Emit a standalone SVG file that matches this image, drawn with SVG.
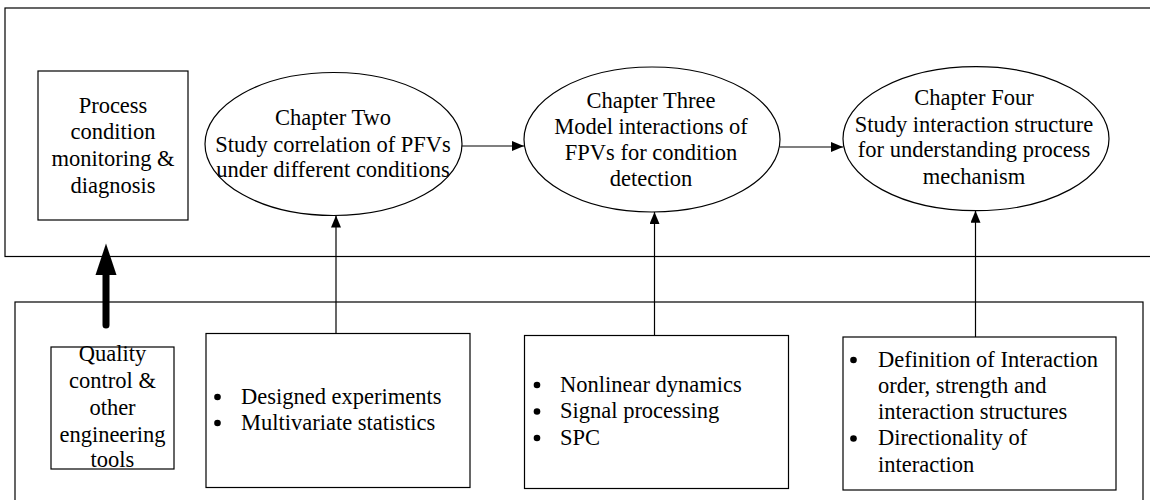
<svg xmlns="http://www.w3.org/2000/svg" width="1150" height="500" viewBox="0 0 1150 500">
<defs>
<style>
.b{fill:#fff;stroke:#000;stroke-width:1.2}
.f{fill:none;stroke:#000;stroke-width:1.2}
.t{font-family:"Liberation Serif","Times New Roman",serif;font-size:22.5px;fill:#000}
.c{text-anchor:middle}
.l{stroke:#000;stroke-width:1.2;fill:none}
</style>
<marker id="ah" viewBox="0 0 12 10" refX="12" refY="5" markerWidth="12" markerHeight="10" markerUnits="userSpaceOnUse" orient="auto">
<path d="M0,0 L12,5 L0,10 Z" fill="#000"/>
</marker>
</defs>
<rect width="1150" height="500" fill="#fff"/>
<g id="top-frame"><rect class="f" x="5" y="8" width="1160" height="248.5"/></g>
<g id="bottom-frame"><rect class="f" x="15" y="302" width="1128" height="210"/></g>

<g id="process-box">
<rect class="b" x="38" y="71" width="150" height="149"/>
<text class="t c" x="113" y="112.5">Process</text>
<text class="t c" x="113" y="139">condition</text>
<text class="t c" x="113" y="166">monitoring &amp;</text>
<text class="t c" x="113" y="193">diagnosis</text>
</g>

<g id="ch2">
<ellipse class="b" cx="333.5" cy="144" rx="128.5" ry="71.5"/>
<text class="t c" x="333" y="125">Chapter Two</text>
<text class="t c" x="333" y="151.5">Study correlation of PFVs</text>
<text class="t c" x="333" y="177">under different conditions</text>
</g>

<g id="ch3">
<ellipse class="b" cx="652" cy="139.5" rx="128" ry="72.5"/>
<text class="t c" x="651" y="108">Chapter Three</text>
<text class="t c" x="651" y="134">Model interactions of</text>
<text class="t c" x="651" y="160">FPVs for condition</text>
<text class="t c" x="651" y="186">detection</text>
</g>

<g id="ch4">
<ellipse class="b" cx="976" cy="138.7" rx="133" ry="72"/>
<text class="t c" x="974" y="105">Chapter Four</text>
<text class="t c" x="974" y="131.5">Study interaction structure</text>
<text class="t c" x="974" y="157">for understanding process</text>
<text class="t c" x="974" y="184">mechanism</text>
</g>

<g id="quality-box">
<rect class="b" x="51" y="347" width="123" height="122"/>
<text class="t c" x="112.5" y="361">Quality</text>
<text class="t c" x="112.5" y="388">control &amp;</text>
<text class="t c" x="112.5" y="415">other</text>
<text class="t c" x="112.5" y="441.5">engineering</text>
<text class="t c" x="112.5" y="467">tools</text>
</g>

<g id="methods-2">
<rect class="b" x="206" y="333.5" width="264" height="154"/>
<circle cx="217.5" cy="397" r="3.3"/>
<circle cx="217.5" cy="423" r="3.3"/>
<text class="t" x="241" y="404">Designed experiments</text>
<text class="t" x="241" y="430">Multivariate statistics</text>
</g>

<g id="methods-3">
<rect class="b" x="524.5" y="335.5" width="264" height="153"/>
<circle cx="537" cy="385" r="3.3"/>
<circle cx="537" cy="411.5" r="3.3"/>
<circle cx="537" cy="438" r="3.3"/>
<text class="t" x="560" y="391.5">Nonlinear dynamics</text>
<text class="t" x="560" y="418">Signal processing</text>
<text class="t" x="560" y="444.5">SPC</text>
</g>

<g id="methods-4">
<rect class="b" x="843" y="337" width="273" height="153"/>
<circle cx="853.5" cy="360" r="3.3"/>
<circle cx="853.5" cy="438.5" r="3.3"/>
<text class="t" x="878" y="366.5">Definition of Interaction</text>
<text class="t" x="878" y="392.5">order, strength and</text>
<text class="t" x="878" y="418.5">interaction structures</text>
<text class="t" x="878" y="445">Directionality of</text>
<text class="t" x="878" y="471.5">interaction</text>
</g>

<g id="connectors">
<line class="l" x1="462" y1="146" x2="524" y2="146" marker-end="url(#ah)"/>
<line class="l" x1="780" y1="147" x2="843" y2="147" marker-end="url(#ah)"/>
<line class="l" x1="336" y1="333.5" x2="336" y2="215.5" marker-end="url(#ah)"/>
<line class="l" x1="654.5" y1="335.5" x2="654.5" y2="212" marker-end="url(#ah)"/>
<line class="l" x1="975.5" y1="337" x2="975.5" y2="210.7" marker-end="url(#ah)"/>
<line x1="106" y1="325" x2="106" y2="272" stroke="#000" stroke-width="7" stroke-linecap="round"/>
<path d="M106,243.5 L116.5,275 L95.5,275 Z" fill="#000"/>
</g>
</svg>
